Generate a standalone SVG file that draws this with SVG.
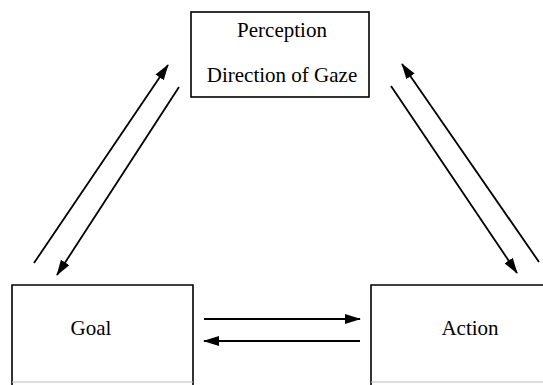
<svg xmlns="http://www.w3.org/2000/svg" width="543" height="385" viewBox="0 0 543 385">
<style>
.box{fill:#fff;stroke:#000;stroke-width:1.6}
.lbl{font-family:"Liberation Serif","Times New Roman",serif;font-size:21px;fill:#000;text-anchor:middle}
.faint{stroke:#bbb;stroke-width:1.2}
.conn line{stroke:#000;stroke-width:1.8;marker-end:url(#ah)}
</style>
<defs>
<marker id="ah" markerUnits="userSpaceOnUse" markerWidth="16" markerHeight="10" refX="15" refY="5" orient="auto">
<path d="M0,0 L16,5 L0,10 z" fill="#000"/>
</marker>
</defs>
<rect width="543" height="385" fill="#fff"/>
<g id="perception">
<rect class="box" x="191" y="12" width="178" height="85"/>
<text class="lbl" x="282" y="37">Perception</text>
<text class="lbl" x="282" y="82">Direction of Gaze</text>
</g>
<g id="goal">
<path d="M12,386 V285 H193 V386" fill="none" stroke="#000" stroke-width="1.6"/>
<line class="faint" x1="12" y1="382" x2="193" y2="382"/>
<text class="lbl" x="91" y="335">Goal</text>
</g>
<g id="action">
<path d="M371,386 V285 H545" fill="none" stroke="#000" stroke-width="1.6"/>
<line class="faint" x1="371" y1="382" x2="543" y2="382"/>
<text class="lbl" x="470" y="335">Action</text>
</g>
<g id="connectors" class="conn">
<line x1="34" y1="263" x2="168" y2="65"/>
<line x1="179" y1="87" x2="57" y2="275"/>
<line x1="539" y1="262" x2="402" y2="64"/>
<line x1="391" y1="86" x2="517" y2="273"/>
<line x1="204" y1="319" x2="360" y2="319"/>
<line x1="360" y1="341" x2="204" y2="341"/>
</g>
</svg>
